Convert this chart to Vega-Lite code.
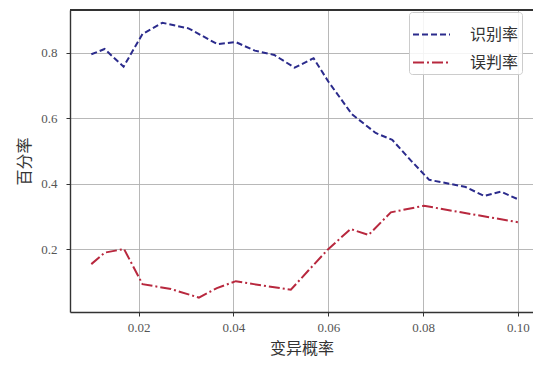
{
  "$schema": "https://vega.github.io/schema/vega-lite/v6.json",
  "width": 463,
  "height": 302,
  "autosize": {"type": "none"},
  "padding": {"left": 70, "top": 10, "right": 0, "bottom": 53},
  "background": "white",
  "config": {
    "view": {"stroke": null},
    "axis": {
      "labelFont": "Liberation Serif, DejaVu Serif, serif",
      "labelFontSize": 13,
      "labelColor": "#555555",
      "titleFont": "Noto Sans CJK SC",
      "titleFontSize": 16,
      "titleFontWeight": "normal",
      "titleColor": "#333333",
      "gridColor": "#b0b0b0",
      "gridWidth": 0.9,
      "domainColor": "#333333",
      "domainWidth": 1.4,
      "tickColor": "#333333",
      "tickSize": 4,
      "tickWidth": 1
    },
    "legend": {
      "labelFont": "Noto Sans CJK SC",
      "labelFontSize": 16,
      "labelColor": "#333333"
    }
  },
  "data": {
    "values": [
      {"rate": 0.0100, "pct": 0.795, "series": "识别率"},
      {"rate": 0.0128, "pct": 0.811, "series": "识别率"},
      {"rate": 0.0168, "pct": 0.757, "series": "识别率"},
      {"rate": 0.0208, "pct": 0.857, "series": "识别率"},
      {"rate": 0.0250, "pct": 0.891, "series": "识别率"},
      {"rate": 0.0305, "pct": 0.874, "series": "识别率"},
      {"rate": 0.0366, "pct": 0.826, "series": "识别率"},
      {"rate": 0.0405, "pct": 0.832, "series": "识别率"},
      {"rate": 0.0445, "pct": 0.806, "series": "识别率"},
      {"rate": 0.0486, "pct": 0.793, "series": "识别率"},
      {"rate": 0.0529, "pct": 0.754, "series": "识别率"},
      {"rate": 0.0569, "pct": 0.783, "series": "识别率"},
      {"rate": 0.0600, "pct": 0.712, "series": "识别率"},
      {"rate": 0.0650, "pct": 0.612, "series": "识别率"},
      {"rate": 0.0700, "pct": 0.555, "series": "识别率"},
      {"rate": 0.0735, "pct": 0.534, "series": "识别率"},
      {"rate": 0.0775, "pct": 0.470, "series": "识别率"},
      {"rate": 0.0813, "pct": 0.412, "series": "识别率"},
      {"rate": 0.0860, "pct": 0.399, "series": "识别率"},
      {"rate": 0.0890, "pct": 0.390, "series": "识别率"},
      {"rate": 0.0929, "pct": 0.363, "series": "识别率"},
      {"rate": 0.0964, "pct": 0.376, "series": "识别率"},
      {"rate": 0.1000, "pct": 0.353, "series": "识别率"},
      {"rate": 0.0100, "pct": 0.155, "series": "误判率"},
      {"rate": 0.0128, "pct": 0.190, "series": "误判率"},
      {"rate": 0.0169, "pct": 0.201, "series": "误判率"},
      {"rate": 0.0208, "pct": 0.094, "series": "误判率"},
      {"rate": 0.0268, "pct": 0.079, "series": "误判率"},
      {"rate": 0.0327, "pct": 0.053, "series": "误判率"},
      {"rate": 0.0365, "pct": 0.082, "series": "误判率"},
      {"rate": 0.0405, "pct": 0.103, "series": "误判率"},
      {"rate": 0.0443, "pct": 0.094, "series": "误判率"},
      {"rate": 0.0521, "pct": 0.077, "series": "误判率"},
      {"rate": 0.0559, "pct": 0.137, "series": "误判率"},
      {"rate": 0.0598, "pct": 0.198, "series": "误判率"},
      {"rate": 0.0647, "pct": 0.262, "series": "误判率"},
      {"rate": 0.0685, "pct": 0.244, "series": "误判率"},
      {"rate": 0.0732, "pct": 0.313, "series": "误判率"},
      {"rate": 0.0802, "pct": 0.333, "series": "误判率"},
      {"rate": 0.0880, "pct": 0.313, "series": "误判率"},
      {"rate": 0.1000, "pct": 0.283, "series": "误判率"}
    ]
  },
  "layer": [
    {
      "mark": {"type": "line", "strokeWidth": 2, "clip": true},
      "encoding": {
        "x": {
          "field": "rate",
          "type": "quantitative",
          "scale": {"domain": [0.0055, 0.1032], "nice": false, "zero": false},
          "axis": {
            "values": [0.02, 0.04, 0.06, 0.08, 0.10],
            "format": ".2f",
            "title": "变异概率",
            "labelPadding": 5,
            "titlePadding": 6,
            "grid": true
          }
        },
        "y": {
          "field": "pct",
          "type": "quantitative",
          "scale": {"domain": [0.009, 0.93], "nice": false, "zero": false},
          "axis": {
            "values": [0.2, 0.4, 0.6, 0.8],
            "format": ".1f",
            "title": "百分率",
            "labelPadding": 9,
            "titlePadding": 8,
            "grid": true
          }
        },
        "color": {
          "field": "series",
          "type": "nominal",
          "scale": {"domain": ["识别率", "误判率"], "range": ["#2b2b8c", "#b8283e"]},
          "legend": {
            "title": null,
            "orient": "none",
            "legendX": 339,
            "legendY": 2,
            "symbolType": "stroke",
            "symbolSize": 1369,
            "symbolStrokeWidth": 2,
            "labelOffset": 19,
            "rowPadding": 0,
            "padding": 3,
            "fillColor": "rgba(255,255,255,0.85)",
            "strokeColor": "#cccccc",
            "cornerRadius": 3
          }
        },
        "strokeDash": {
          "field": "series",
          "type": "nominal",
          "scale": {"domain": ["识别率", "误判率"], "range": [[6, 3], [11, 3, 2, 3]]},
          "legend": {
            "title": null,
            "orient": "none",
            "legendX": 339,
            "legendY": 2,
            "symbolType": "stroke",
            "symbolSize": 1369,
            "symbolStrokeWidth": 2,
            "labelOffset": 19,
            "rowPadding": 0,
            "padding": 3,
            "fillColor": "rgba(255,255,255,0.85)",
            "strokeColor": "#cccccc",
            "cornerRadius": 3
          }
        }
      }
    },
    {
      "mark": {"type": "rule", "color": "#333333", "strokeWidth": 1.4},
      "encoding": {
        "y": {"datum": 0.93, "type": "quantitative"}
      }
    }
  ]
}
